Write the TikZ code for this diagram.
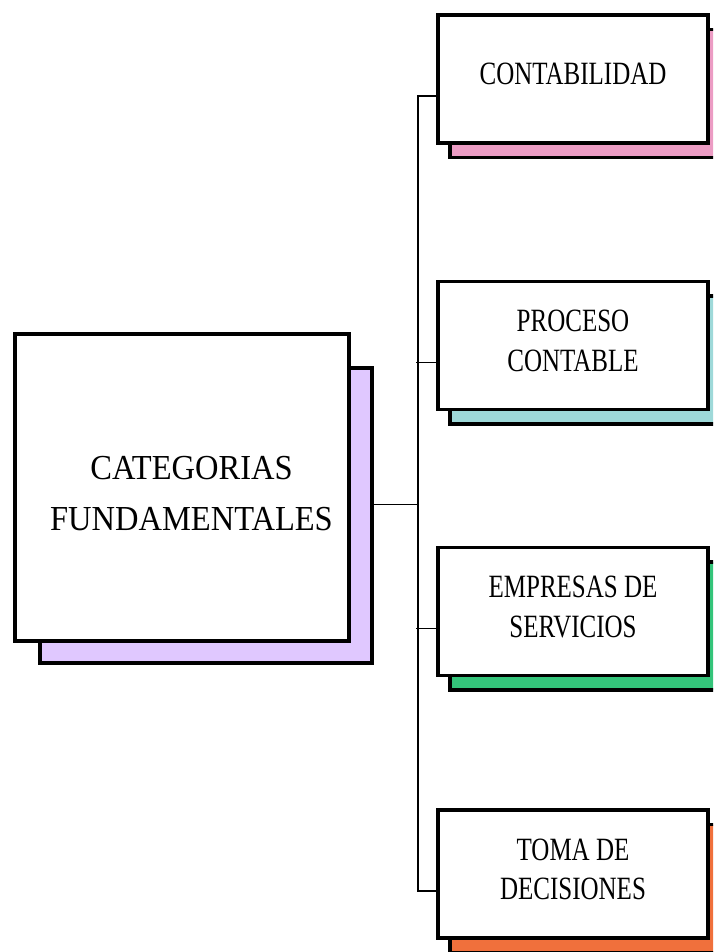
\documentclass[tikz,border=0pt]{standalone}
\usepackage{fontspec}
\setmainfont{Liberation Serif}
\usepackage{graphicx}
\usetikzlibrary{positioning}

\definecolor{shadelilac}{RGB}{224,200,255}
\definecolor{shadepink}{RGB}{236,156,196}
\definecolor{shadeteal}{RGB}{158,217,217}
\definecolor{shadegreen}{RGB}{52,196,122}
\definecolor{shadeorange}{RGB}{240,112,60}

% raise, vertical stretch, lines
\newcommand{\tall}[3]{\raisebox{#1}[\height][\depth]{\scalebox{1}[#2]{\begin{tabular}{@{}c@{}}#3\end{tabular}}}}

\begin{document}
\begin{tikzpicture}[x=1pt, y=-1pt]

    % Global styles for boxes and wires
    \tikzset{
        frontbox/.style={draw, line width=3.5pt, fill=white, inner sep=0pt,
            minimum width=270pt, minimum height=128pt,
            font=\fontsize{25}{30.4}\selectfont},
        backbox/.style={draw, line width=3.5pt, fill=#1, inner sep=0pt,
            minimum width=290pt, minimum height=128pt},
        wire/.style={line width=1.2pt}
    }

    \useasboundingbox (0,0) rectangle (713,952);
    \clip (0,0) rectangle (713,952);

    % Main box (left)
    \node[backbox=shadelilac, minimum width=332pt, minimum height=295pt] (catback) at (206,515.5) {};
    \node[frontbox, minimum width=334pt, minimum height=307pt,
        font=\fontsize{32.5}{47}\selectfont] (cat) at (182,487.5)
        {\hspace*{19pt}\tall{-7.5pt}{1.08}{CATEGORIAS\\FUNDAMENTALES}};

    % Shadows of the right boxes
    \node[backbox=shadepink]   (contback) at (595,93.5)  {};
    \node[backbox=shadeteal]   (procback) at (595,360)   {};
    \node[backbox=shadegreen]  (empback)  at (595,626)   {};
    \node[backbox=shadeorange] (tomaback) at (595,888.5) {};

    % Right boxes
    \node[frontbox] (cont) at (573,79)    {\tall{2pt}{1.3}{CONTABILIDAD}};
    \node[frontbox] (proc) at (573,345.5) {\tall{2pt}{1.3}{PROCESO\\CONTABLE}};
    \node[frontbox] (emp)  at (573,611.5) {\tall{2pt}{1.3}{EMPRESAS DE\\SERVICIOS}};
    \node[frontbox] (toma) at (573,874)   {\tall{2pt}{1.3}{TOMA DE\\DECISIONES}};

    % Wiring main -> bus
    \coordinate (hub) at (418,504.5);
    \draw[wire] (catback.east |- hub) -- (hub);

    % Bus -> right boxes
    \draw[wire] ([yshift=-17pt]cont.west) -| (hub) |- ([yshift=-17pt]toma.west);
    \draw[wire] ([yshift=-17pt]proc.west) -- ++(-20,0);
    \draw[wire] ([yshift=-17pt]emp.west) -- ++(-20,0);

\end{tikzpicture}
\end{document}
